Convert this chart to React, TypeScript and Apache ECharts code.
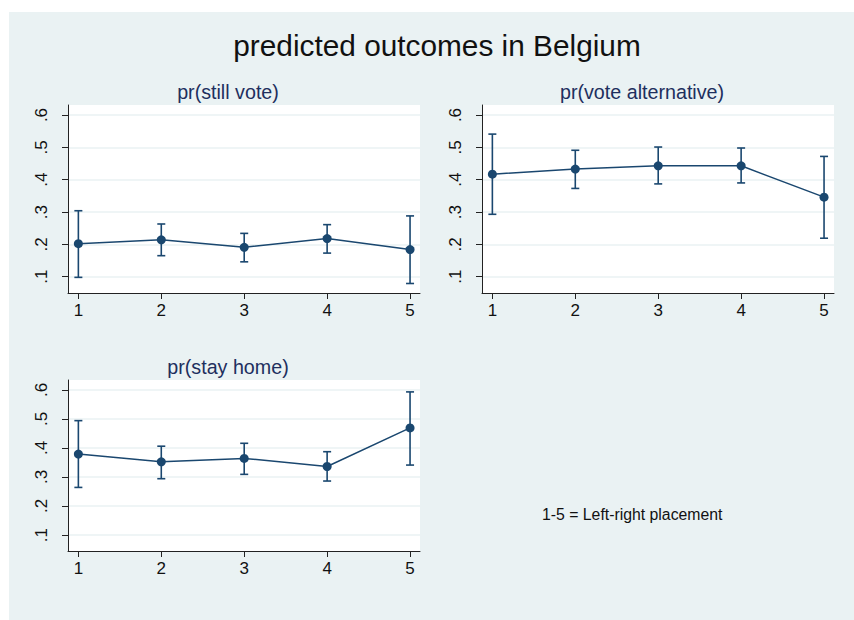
import React, { useEffect, useRef } from "react";
import * as echarts from "echarts";

const xValues = [1, 2, 3, 4, 5];
const yTickValues = [0.1, 0.2, 0.3, 0.4, 0.5, 0.6];
const yTickLabels = [".1", ".2", ".3", ".4", ".5", ".6"];

const panelTitles = ["pr(still vote)", "pr(vote alternative)", "pr(stay home)"];

const stillVote = [0.202, 0.214, 0.191, 0.218, 0.184];
const stillVoteLow = [0.098, 0.165, 0.146, 0.173, 0.079];
const stillVoteHigh = [0.304, 0.263, 0.234, 0.261, 0.288];

const voteAlt = [0.417, 0.433, 0.443, 0.443, 0.346];
const voteAltLow = [0.293, 0.373, 0.387, 0.39, 0.219];
const voteAltHigh = [0.541, 0.491, 0.501, 0.498, 0.472];

const stayHome = [0.379, 0.352, 0.364, 0.336, 0.469];
const stayHomeLow = [0.264, 0.294, 0.309, 0.286, 0.341];
const stayHomeHigh = [0.494, 0.406, 0.416, 0.387, 0.593];

const mainTitle = "predicted outcomes in Belgium";
const noteText = "1-5 = Left-right placement";

const NAVY = "#1a476f";
const BG = "#eaf2f3";
const AXIS = "#222222";
const FONT = "'Liberation Sans', Arial, sans-serif";

export default function App() {
  const ref = useRef<HTMLDivElement>(null);

  useEffect(() => {
    if (!ref.current) return;
    const chart = echarts.init(ref.current, null, { renderer: "svg" });

    const grids = [
      { left: 68, top: 105, width: 352, height: 188 },
      { left: 482, top: 105, width: 352, height: 188 },
      { left: 68, top: 380, width: 352, height: 171 },
    ];
    const yRanges = [
      [0.0496, 0.631],
      [0.0496, 0.631],
      [0.045, 0.634],
    ];
    const mids = [stillVote, voteAlt, stayHome];
    const lows = [stillVoteLow, voteAltLow, stayHomeLow];
    const highs = [stillVoteHigh, voteAltHigh, stayHomeHigh];
    const titlePos = [
      [228, 92],
      [642, 92],
      [228, 367],
    ];

    const series: any[] = [];
    mids.forEach((m, i) => {
      series.push({
        type: "custom",
        xAxisIndex: i,
        yAxisIndex: i,
        z: 2,
        silent: true,
        encode: { x: 0, y: [1, 2] },
        data: xValues.map((x, k) => [x, lows[i][k], highs[i][k]]),
        renderItem: (params: any, api: any) => {
          const x = api.value(0);
          const pLo = api.coord([x, api.value(1)]);
          const pHi = api.coord([x, api.value(2)]);
          const hw = 4;
          const style = { stroke: NAVY, lineWidth: 1.6, fill: "none" };
          return {
            type: "group",
            children: [
              { type: "line", shape: { x1: pHi[0], y1: pHi[1], x2: pLo[0], y2: pLo[1] }, style },
              { type: "line", shape: { x1: pHi[0] - hw, y1: pHi[1], x2: pHi[0] + hw, y2: pHi[1] }, style },
              { type: "line", shape: { x1: pLo[0] - hw, y1: pLo[1], x2: pLo[0] + hw, y2: pLo[1] }, style },
            ],
          };
        },
      });
      series.push({
        type: "line",
        xAxisIndex: i,
        yAxisIndex: i,
        z: 3,
        data: xValues.map((x, k) => [x, m[k]]),
        symbol: "circle",
        symbolSize: 9,
        showSymbol: true,
        itemStyle: { color: NAVY },
        lineStyle: { color: NAVY, width: 1.5 },
      });
    });

    const option: any = {
      animation: false,
      backgroundColor: "#ffffff",
      textStyle: { fontFamily: FONT },
      graphic: [
        {
          type: "rect",
          z: -10,
          shape: { x: 9, y: 12, width: 845, height: 608 },
          style: { fill: BG },
          silent: true,
        },
        {
          type: "text",
          x: 437,
          y: 45,
          style: {
            text: mainTitle,
            fontSize: 29.8,
            fontFamily: FONT,
            fill: "#111111",
            textAlign: "center",
            textVerticalAlign: "middle",
          },
        },
        ...panelTitles.map((t, i) => ({
          type: "text",
          x: titlePos[i][0],
          y: titlePos[i][1],
          style: {
            text: t,
            fontSize: 19.7,
            fontFamily: FONT,
            fill: "#1e2f5e",
            textAlign: "center",
            textVerticalAlign: "middle",
          },
        })),
        {
          type: "text",
          x: 542,
          y: 514,
          style: {
            text: noteText,
            fontSize: 15.8,
            fontFamily: FONT,
            fill: "#111111",
            textAlign: "left",
            textVerticalAlign: "middle",
          },
        },
      ],
      grid: grids.map((g) => ({
        ...g,
        show: true,
        backgroundColor: "#ffffff",
        borderWidth: 0,
        containLabel: false,
      })),
      xAxis: grids.map((_, i) => ({
        type: "value",
        gridIndex: i,
        min: 0.875,
        max: 5.12,
        axisLine: { show: true, onZero: false, lineStyle: { color: AXIS, width: 1 } },
        axisTick: {
          show: true,
          length: 6,
          lineStyle: { color: AXIS },
          customValues: xValues,
        },
        axisLabel: {
          show: true,
          customValues: xValues,
          margin: 9,
          fontSize: 17,
          color: "#111111",
          fontFamily: FONT,
          formatter: (v: number) => String(v),
        },
        splitLine: { show: false },
      })),
      yAxis: grids.map((_, i) => ({
        type: "value",
        gridIndex: i,
        min: yRanges[i][0],
        max: yRanges[i][1],
        axisLine: { show: true, onZero: false, lineStyle: { color: AXIS, width: 1 } },
        axisTick: {
          show: true,
          length: 6,
          lineStyle: { color: AXIS },
          customValues: yTickValues,
        },
        axisLabel: {
          show: true,
          customValues: yTickValues,
          rotate: 90,
          margin: 18,
          fontSize: 17,
          color: "#111111",
          fontFamily: FONT,
          formatter: (v: number) => {
            const idx = yTickValues.findIndex((t) => Math.abs(t - v) < 1e-6);
            return idx >= 0 ? yTickLabels[idx] : "";
          },
        },
        splitLine: { show: true, lineStyle: { color: BG, width: 1.5 } },
      })),
      series,
    };

    chart.setOption(option);
    return () => chart.dispose();
  }, []);

  return (
    <div
      ref={ref}
      style={{ position: "absolute", left: 0, top: 0, width: 854, height: 620 }}
    />
  );
}
